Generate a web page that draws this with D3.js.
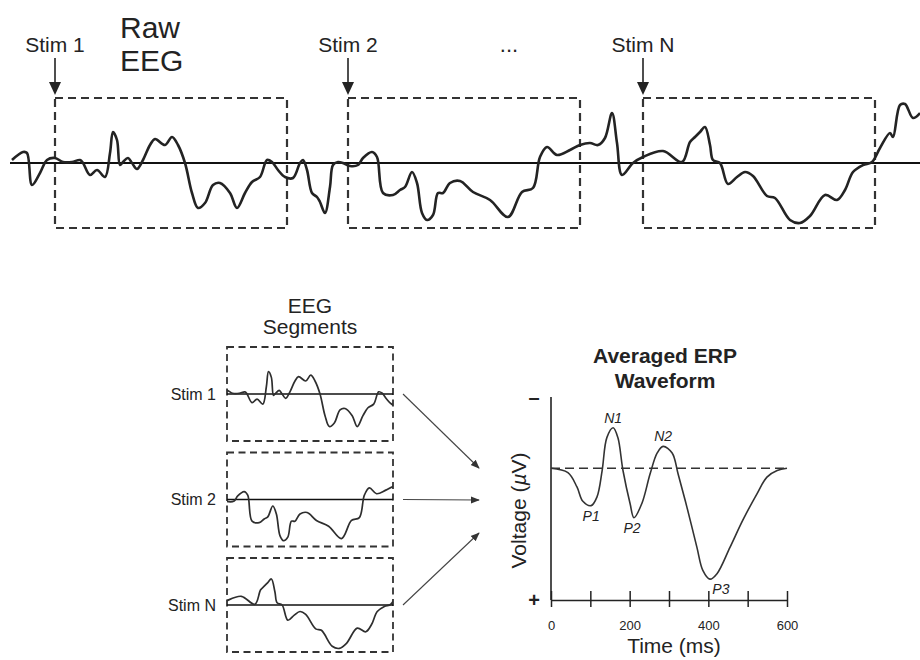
<!DOCTYPE html>
<html>
<head>
<meta charset="utf-8">
<script src="https://cdn.jsdelivr.net/npm/d3@7"></script>
<style>
  html, body { margin: 0; padding: 0; background: #fff; }
  svg { display: block; font-family: "Liberation Sans", Arial, Helvetica, sans-serif; }
</style>
</head>
<body>
<svg id="fig" width="920" height="660"></svg>
<script>
// ---- Raw EEG recording: time (ms) and voltage (µV, negative up) ----
const rawTime = [4, 26, 34, 44, 60, 74, 90, 106, 124, 140, 146, 160, 174, 190, 200, 206, 214, 220, 226, 236,
  244, 254, 266, 280, 290, 310, 324, 336, 350, 364, 376, 390, 406, 420, 440, 454, 470, 484, 500, 514,
  524, 536, 550, 566, 580, 586, 594, 604, 614, 620, 630, 640, 646, 656, 666, 680, 696, 706, 724, 734,
  746, 766, 780, 790, 804, 814, 824, 834, 846, 856, 866, 880, 900, 926, 960, 996, 1024, 1046, 1060, 1074,
  1094, 1120, 1140, 1160, 1176, 1190, 1204, 1214, 1224, 1246, 1266, 1306, 1344, 1360, 1370, 1380, 1390, 1400, 1406, 1420,
  1436, 1454, 1470, 1486, 1514, 1530, 1560, 1580, 1600, 1630, 1654, 1670, 1686, 1706, 1724, 1740, 1760, 1766, 1780, 1790,
  1806, 1820];
const rawVolt = [-1.2, -4.4, -4.0, 8.8, 4.0, -1.2, -2.0, -0.4, -0.4, -1.2, 0, 4.8, 2.8, 5.6, -4.0, -12.4, -9.2, 0.8, -0.4, -2.0,
  0, 2.4, -1.2, -7.2, -9.6, -7.2, -10.4, -7.2, 0, 12.0, 18.0, 16.0, 8.8, 8.0, 12.0, 18.0, 12.0, 7.6, 5.6, -1.2,
  -0.4, 2.8, 5.6, 6.0, 0, -1.2, 2.8, 12.0, 13.6, 15.6, 20.0, 9.6, 0.8, -0.4, 0, 1.2, 0.8, -2.0, -4.4, -2.4,
  12.0, 12.8, 10.8, 9.6, 3.6, 8.0, 20.0, 22.8, 20.8, 12.0, 12.0, 8.0, 7.2, 11.6, 14.8, 21.6, 11.6, 10.0, -2.4, -6.4,
  -3.2, -5.2, -7.2, -8.0, -7.2, -10.0, -20.0, -8.0, 4.8, 0, -2.4, -4.8, -0.4, -8.4, -10.4, -12.4, -14.4, -7.2, -1.2, 0,
  8.4, 5.6, 3.6, 5.2, 13.2, 14.0, 22.8, 24.0, 21.2, 12.8, 14.8, 10.8, 3.6, 0.8, -0.4, -6.0, -12.0, -10.4, -23.2, -23.6,
  -18.0, -20.0];

// ---- Stimulus events and epoch window ----
const stimLabels = ["Stim 1", "Stim 2", "Stim N"];
const stimOnsets = [90, 676, 1266];
const epochLength = 464;

// ---- Averaged ERP waveform: time (ms) and voltage (µV) ----
const erpTime = [0, 43, 66, 81, 102, 117, 130, 142, 158, 170, 183, 201, 211, 231, 252, 270, 285, 308, 323, 346,
  371, 386, 404, 422, 455, 488, 524, 549, 575, 600];
const erpVolt = [0, 0.4, 1.7, 3.0, 3.4, 2.6, 0.2, -2.8, -3.7, -2.8, 0.2, 3.2, 4.5, 3.2, 0.5, -1.4, -2.0, -1.4, 0.5, 3.6,
  7.2, 9.3, 10.1, 9.6, 7.2, 4.7, 2.3, 0.8, 0.2, 0];

// ---- ERP component labels ----
const peakNames = ["P1", "N1", "P2", "N2", "P3"];
const peakTimes = [102, 158, 211, 285, 404];

// ---- Time axis ----
const timeTicks = [0, 100, 200, 300, 400, 500, 600];
const timeTickLabels = ["0", "", "200", "", "400", "", "600"];

const svg = d3.select("#fig");
const ink = "#232323";

svg.append("defs").append("marker")
  .attr("id", "head")
  .attr("viewBox", "0 0 10 10")
  .attr("refX", 9).attr("refY", 5)
  .attr("markerWidth", 9).attr("markerHeight", 9)
  .attr("markerUnits", "userSpaceOnUse")
  .attr("orient", "auto")
  .append("path").attr("d", "M0,1 L10,5 L0,9 Z").attr("fill", "#333");

const smooth = d3.line().curve(d3.curveCatmullRom.alpha(0.5));

// ================= Raw EEG =================
const xRaw = d3.scaleLinear().domain([0, 1820]).range([10, 920]);
const yRaw = d3.scaleLinear().domain([-26, 26]).range([98, 228]);
const raw = svg.append("g");

raw.append("text").attr("x", 120).attr("y", 38)
  .attr("font-size", 30).attr("fill", ink).text("Raw");
raw.append("text").attr("x", 120).attr("y", 71)
  .attr("font-size", 30).attr("fill", ink).text("EEG");
raw.append("text").attr("x", 509).attr("y", 52).attr("text-anchor", "middle")
  .attr("font-size", 22).attr("fill", ink).text("...");

stimOnsets.forEach((t0, i) => {
  const x0 = xRaw(t0), x1 = xRaw(t0 + epochLength);
  raw.append("rect")
    .attr("x", x0).attr("y", yRaw(-26))
    .attr("width", x1 - x0).attr("height", yRaw(26) - yRaw(-26))
    .attr("fill", "none").attr("stroke", "#333").attr("stroke-width", 2.2)
    .attr("stroke-dasharray", "8,5");
  raw.append("text").attr("x", x0).attr("y", 52).attr("text-anchor", "middle")
    .attr("font-size", 21).attr("fill", ink).text(stimLabels[i]);
  raw.append("line").attr("x1", x0).attr("x2", x0).attr("y1", 58).attr("y2", 84)
    .attr("stroke", ink).attr("stroke-width", 1.6);
  raw.append("path")
    .attr("d", `M${x0 - 6},82 L${x0 + 6},82 L${x0},95 Z`)
    .attr("fill", ink);
});

raw.append("line")
  .attr("x1", 10).attr("x2", 920).attr("y1", yRaw(0)).attr("y2", yRaw(0))
  .attr("stroke", "#111").attr("stroke-width", 1.8);

raw.append("path")
  .attr("d", smooth(rawTime.map((t, i) => [xRaw(t), yRaw(rawVolt[i])])))
  .attr("fill", "none").attr("stroke", ink).attr("stroke-width", 2.6)
  .attr("stroke-linejoin", "round");

// ================= EEG segments =================
const segX = d3.scaleLinear().domain([0, epochLength]).range([227, 393]);
const segTops = [347, 452.5, 558];
const segH = 94;
const seg = svg.append("g");

seg.append("text").attr("x", 310).attr("y", 313).attr("text-anchor", "middle")
  .attr("font-size", 21).attr("fill", ink).text("EEG");
seg.append("text").attr("x", 310).attr("y", 334).attr("text-anchor", "middle")
  .attr("font-size", 21).attr("fill", ink).text("Segments");

const arrowEnds = [[479, 468], [479, 500], [479, 533]];

stimOnsets.forEach((t0, i) => {
  const top = segTops[i];
  const ySeg = d3.scaleLinear().domain([-26, 26]).range([top, top + segH]);
  const g = seg.append("g");
  g.append("clipPath").attr("id", "clip" + i)
    .append("rect").attr("x", segX(0)).attr("y", top)
    .attr("width", segX(epochLength) - segX(0)).attr("height", segH);
  g.append("rect")
    .attr("x", segX(0)).attr("y", top)
    .attr("width", segX(epochLength) - segX(0)).attr("height", segH)
    .attr("fill", "none").attr("stroke", "#333").attr("stroke-width", 1.8)
    .attr("stroke-dasharray", "7,4.5");
  g.append("line")
    .attr("x1", segX(0)).attr("x2", segX(epochLength))
    .attr("y1", ySeg(0)).attr("y2", ySeg(0))
    .attr("stroke", "#111").attr("stroke-width", 1.5);
  const pts = rawTime
    .map((t, j) => [t - t0, rawVolt[j]])
    .filter(d => d[0] >= -40 && d[0] <= epochLength + 40)
    .map(d => [segX(d[0]), ySeg(d[1])]);
  g.append("path")
    .attr("clip-path", `url(#clip${i})`)
    .attr("d", smooth(pts))
    .attr("fill", "none").attr("stroke", "#2e2e2e").attr("stroke-width", 1.7);
  g.append("text").attr("x", 216).attr("y", ySeg(0)).attr("dy", "0.35em")
    .attr("text-anchor", "end").attr("font-size", 16).attr("fill", ink)
    .text(stimLabels[i]);
  g.append("line")
    .attr("x1", segX(epochLength) + 10).attr("y1", ySeg(0))
    .attr("x2", arrowEnds[i][0]).attr("y2", arrowEnds[i][1])
    .attr("stroke", "#444").attr("stroke-width", 1.1)
    .attr("marker-end", "url(#head)");
});

// ================= Averaged ERP =================
const xErp = d3.scaleLinear().domain([0, 600]).range([551, 787]);
const yErp = d3.scaleLinear().domain([-6.5, 12]).range([397, 600]);
const erp = svg.append("g");

erp.append("text").attr("x", 665).attr("y", 363).attr("text-anchor", "middle")
  .attr("font-size", 21).attr("font-weight", "bold").attr("fill", ink).text("Averaged ERP");
erp.append("text").attr("x", 665).attr("y", 388).attr("text-anchor", "middle")
  .attr("font-size", 21).attr("font-weight", "bold").attr("fill", ink).text("Waveform");

// vertical voltage axis
erp.append("line")
  .attr("x1", xErp(0)).attr("x2", xErp(0))
  .attr("y1", yErp(-6.5)).attr("y2", yErp(12))
  .attr("stroke", ink).attr("stroke-width", 1.6);
erp.append("text").attr("x", 534).attr("y", yErp(-6.5)).attr("dy", "0.35em")
  .attr("text-anchor", "middle").attr("font-size", 20).attr("font-weight", "bold")
  .attr("fill", ink).text("\u2013");
erp.append("text").attr("x", 534).attr("y", yErp(12)).attr("dy", "0.35em")
  .attr("text-anchor", "middle").attr("font-size", 20).attr("font-weight", "bold")
  .attr("fill", ink).text("+");

const vLabel = erp.append("text")
  .attr("transform", `translate(526,${(yErp(-6.5) + yErp(12)) / 2 + 12}) rotate(-90)`)
  .attr("text-anchor", "middle").attr("font-size", 21).attr("fill", ink);
vLabel.append("tspan").text("Voltage (");
vLabel.append("tspan").attr("font-style", "italic").text("\u00b5");
vLabel.append("tspan").text("V)");

// time axis
const xAxis = d3.axisBottom(xErp)
  .tickValues(timeTicks)
  .tickFormat((d, i) => timeTickLabels[i])
  .tickSizeOuter(0).tickSizeInner(7).tickPadding(14);
const ax = erp.append("g").attr("transform", `translate(0,${yErp(12)})`).call(xAxis);
ax.select(".domain").attr("stroke", ink).attr("stroke-width", 1.6);
ax.selectAll(".tick line").attr("y1", -9).attr("y2", 7)
  .attr("stroke", ink).attr("stroke-width", 1.5);
ax.selectAll(".tick text").attr("font-size", 13).attr("fill", ink)
  .attr("font-family", "\"Liberation Sans\", Arial, sans-serif");

erp.append("text").attr("x", 674).attr("y", 653).attr("text-anchor", "middle")
  .attr("font-size", 21).attr("fill", ink).text("Time (ms)");

// zero-voltage reference
erp.append("line")
  .attr("x1", xErp(0)).attr("x2", xErp(600))
  .attr("y1", yErp(0)).attr("y2", yErp(0))
  .attr("stroke", "#333").attr("stroke-width", 1.5).attr("stroke-dasharray", "9,5");

// waveform
erp.append("path")
  .attr("d", smooth(erpTime.map((t, i) => [xErp(t), yErp(erpVolt[i])])))
  .attr("fill", "none").attr("stroke", "#333").attr("stroke-width", 1.6);

// component labels
peakNames.forEach((name, i) => {
  const j = erpTime.indexOf(peakTimes[i]);
  const v = erpVolt[j];
  const neg = v < 0;
  const dx = name === "P3" ? 11 : (name === "P2" ? -2 : 0);
  erp.append("text")
    .attr("x", xErp(peakTimes[i]) + dx)
    .attr("y", yErp(v) + (neg ? -10 : 10))
    .attr("dy", "0.35em")
    .attr("text-anchor", "middle").attr("font-size", 14).attr("font-style", "italic")
    .attr("fill", ink).text(name);
});
</script>
</body>
</html>
